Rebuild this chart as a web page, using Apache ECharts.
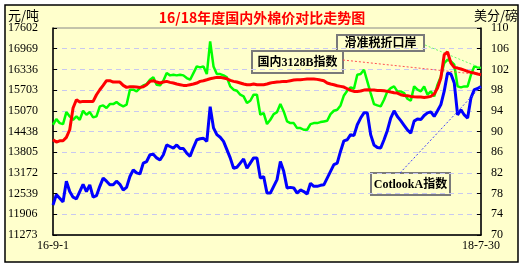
<!DOCTYPE html>
<html><head><meta charset="utf-8">
<script src="https://cdn.jsdelivr.net/npm/echarts@6/dist/echarts.min.js"></script>
<style>html,body{margin:0;padding:0;background:#fff}#c{width:524px;height:268px}</style>
</head><body><div id="c"></div>
<script>
const titleText = '16/18年度国内外棉价对比走势图';
const leftUnit = '元/吨';
const rightUnit = '美分/磅';
const xStart = '16-9-1';
const xEnd = '18-7-30';
const leftTicks = [11273, 11906, 12539, 13172, 13805, 14438, 15070, 15703, 16336, 16969, 17602];
const rightTicks = [70, 74, 78, 82, 86, 90, 94, 98, 102, 106, 110];
const nameRed = '国内3128B指数';
const nameGreen = '滑准税折口岸';
const nameBlue = 'CotlookA指数';
const red = [14185,14114,14154,14154,14256,14491,15154,15409,15337,15358,15358,15358,15358,15562,15715,15847,15990,15990,15949,15949,15949,15847,15786,15806,15806,15796,15786,15806,15868,15970,15990,
15949,15919,15949,15970,15939,15919,15888,15868,15847,15847,15868,15888,15919,15970,15990,16020,16051,16071,16092,16092,16071,16051,16000,15970,15949,15919,15888,15868,15868,15888,15868,
15868,15868,15888,15919,15939,15949,15959,15970,15970,15990,16010,16020,16020,16031,16041,16041,16041,16031,16010,15990,15919,15888,15868,15837,15817,15796,15745,15694,15664,15664,15674,15704,
15715,15704,15704,15694,15694,15684,15664,15643,15623,15613,15562,15541,15531,15511,15500,15490,15490,15480,15490,15511,15582,15766,16071,16785,16867,16530,16398,16377,16347,16316,16275,16245,16224,16194,16173];
const green = [14644,14817,14695,14664,15031,14899,14797,14899,14797,15072,14950,15031,14868,14899,15205,15235,15154,15276,15276,15337,15256,15205,15256,15715,15715,15664,15766,15847,15888,16020,16092,
15868,15847,15990,16224,16153,16173,16153,16173,16153,16071,16020,16224,16428,16398,16428,16194,17193,16428,16194,16194,16153,16092,15817,15715,15684,15562,15511,15307,15378,15562,15562,
14950,15001,14664,14797,14970,15031,15276,15052,14746,14695,14695,14542,14542,14491,14491,14664,14695,14695,14725,14746,14766,14970,15072,15103,15235,15541,15684,15786,15745,16173,16194,16326,
15970,15613,15276,15235,15205,15409,15664,15766,15817,15664,15664,15613,15439,15378,15817,15715,15664,15817,15562,15664,15511,15868,16122,16530,16632,16581,16479,15817,15786,15817,15817,16173,16428,16398,16377];
const blue = [75.8,77.8,77.1,76.4,80.4,78.4,77.3,77.0,78.4,79.8,78.4,79.7,77.3,77.6,79.4,81.0,80.4,79.7,79.7,80.4,79.8,78.7,79.2,81.3,82.6,82.0,81.8,83.9,84.2,85.5,85.6,
84.9,84.5,85.5,87.4,87.1,86.8,87.4,86.7,86.7,85.8,85.2,86.9,88.4,88.6,88.7,88.1,94.8,90.7,89.4,88.9,88.1,86.5,84.9,82.9,83.1,83.9,84.7,82.9,83.9,84.9,84.9,
81.0,81.3,78.1,78.1,79.4,80.7,84.2,82.3,79.1,79.2,79.1,78.1,78.7,78.4,77.9,80.0,79.4,79.4,79.6,79.7,81.0,82.3,83.6,83.9,86.2,88.2,88.4,89.4,89.2,91.3,92.6,93.6,
93.6,89.4,87.4,86.9,86.8,88.4,90.2,92.6,94.0,92.9,92.1,91.2,90.3,89.7,92.0,92.4,92.3,93.1,93.6,93.8,92.9,94.0,95.2,97.8,101.3,101.1,99.4,93.2,94.2,93.2,92.6,96.5,98.1,98.3,98.7];

const N = red.length;
const categories = Array.from({length: N}, (_, i) => i === 0 ? xStart : (i === N - 1 ? xEnd : String(i)));
const numFont = "'Liberation Serif', serif";
const cjkFont = "'Noto Sans CJK SC', sans-serif";
const boxFont = "bold 12px 'Liberation Serif', 'Noto Sans CJK SC', serif";
function nearest(arr, v) { let b = arr[0]; for (const a of arr) if (Math.abs(a - v) < Math.abs(b - v)) b = a; return String(b); }

function box(x, y, w, h, text) {
  return { type: 'group', x: x, y: y, z: 100, silent: true, children: [
    { type: 'rect', shape: { x: 0, y: 0, width: w, height: h }, style: { fill: '#FFFFCC', stroke: '#7a7a7a', lineWidth: 2 } },
    { type: 'text', x: w / 2, y: h / 2 + 1, style: { text: text, font: boxFont, fill: '#000', align: 'center', verticalAlign: 'middle' } }
  ]};
}
function leader(px, py, idx, val, color) {
  return { silent: true, symbol: ['none', 'none'], label: { show: false }, animation: false,
    lineStyle: { type: [2, 2], width: 1, color: color },
    data: [[{ x: px, y: py }, { coord: [idx, val] }]] };
}

const chart = echarts.init(document.getElementById('c'), null, { renderer: 'canvas' });
chart.setOption({
  animation: false,
  backgroundColor: '#ffffff',
  title: { text: titleText, left: 'center', top: 6, textStyle: { color: '#FF0000', fontSize: 14, fontWeight: 'bold', fontFamily: cjkFont } },
  grid: { left: 53, right: 43, top: 28, bottom: 33, show: true, borderColor: '#888', borderWidth: 1, backgroundColor: 'transparent' },
  xAxis: {
    type: 'category', data: categories, boundaryGap: false,
    axisLine: { lineStyle: { color: '#000', width: 1.5 } },
    axisTick: { show: false },
    axisLabel: { interval: (i) => i === 0 || i === N - 1, showMinLabel: true, showMaxLabel: true, margin: 5, color: '#000', fontSize: 12, fontFamily: numFont },
    splitLine: { show: false }
  },
  yAxis: [
    { type: 'value', position: 'left', min: leftTicks[0], max: leftTicks[leftTicks.length - 1],
      interval: (leftTicks[leftTicks.length - 1] - leftTicks[0]) / (leftTicks.length - 1),
      axisLine: { show: true, lineStyle: { color: '#000', width: 1.5 } },
      axisTick: { show: true, inside: true, length: 4, lineStyle: { color: '#000' } },
      axisLabel: { align: 'left', margin: 45, color: '#000', fontSize: 12, fontFamily: numFont, formatter: (v) => nearest(leftTicks, v) },
      splitLine: { show: true, showMinLine: false, showMaxLine: false, lineStyle: { color: '#C8C8F0', type: [5, 4], width: 1 } }
    },
    { type: 'value', position: 'right', min: rightTicks[0], max: rightTicks[rightTicks.length - 1], interval: 4,
      axisLine: { show: true, lineStyle: { color: '#000', width: 1.5 } },
      axisTick: { show: true, inside: true, length: 4, lineStyle: { color: '#000' } },
      axisLabel: { margin: 10, color: '#000', fontSize: 12, fontFamily: numFont, formatter: (v) => nearest(rightTicks, v) },
      splitLine: { show: false }
    }
  ],
  series: [
    { name: nameBlue, type: 'line', yAxisIndex: 1, data: blue, symbol: 'none', lineStyle: { color: '#0000FF', width: 3 }, itemStyle: { color: '#0000FF' }, z: 3,
      markLine: leader(400, 173, N - 1, blue[N - 1], '#4040FF') },
    { name: nameGreen, type: 'line', yAxisIndex: 0, data: green, symbol: 'none', lineStyle: { color: '#00FF00', width: 2.5 }, itemStyle: { color: '#00FF00' }, z: 4,
      markLine: leader(425, 45, N - 1, green[N - 1], '#66FF66') },
    { name: nameRed, type: 'line', yAxisIndex: 0, data: red, symbol: 'none', lineStyle: { color: '#FF0000', width: 3 }, itemStyle: { color: '#FF0000' }, z: 5,
      markLine: leader(343, 60, N - 1, red[N - 1], '#FF5050') }
  ],
  graphic: [
    { type: 'rect', z: -100, silent: true, shape: { x: 5, y: 5, width: 513, height: 257 }, style: { fill: '#FFFFCC', stroke: '#000', lineWidth: 1.5 } },
    { type: 'text', x: 8, y: 9, silent: true, style: { text: leftUnit, font: "13px 'Noto Sans CJK SC'", fill: '#000' } },
    { type: 'text', x: 474, y: 9, silent: true, style: { text: rightUnit, font: "13px 'Noto Sans CJK SC'", fill: '#000' } },
    box(337, 35, 87, 16, nameGreen),
    box(252, 51, 91, 22, nameRed),
    box(371, 173, 79, 22, nameBlue)
  ]
});
</script></body></html>
